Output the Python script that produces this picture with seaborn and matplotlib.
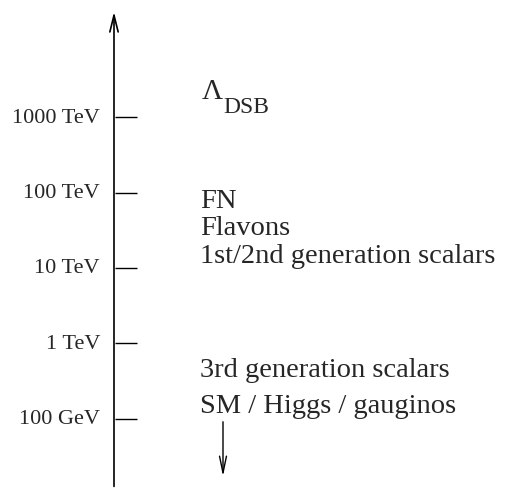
import matplotlib
matplotlib.use("Agg")
import matplotlib.pyplot as plt
import seaborn as sns

# energy scale in log10(E/GeV)
tick_vals = [2, 3, 4, 5, 6]
tick_labels = ["100 GeV", "1 TeV", "10 TeV", "100 TeV", "1000 TeV"]

# physics labels on the right, with their log10(E/GeV) baseline position
item_vals = [4.81, 4.45, 4.08, 2.57, 2.09]
item_labels = ["FN", "Flavons", "1st/2nd generation scalars",
               "3rd generation scalars", "SM / Higgs / gauginos"]
lambda_val = 6.25
lambda_sub_val = 6.066

sns.set_style("white")
plt.rcParams["font.family"] = ["Liberation Serif", "DejaVu Serif"]

fig = plt.figure(figsize=(5.12, 4.89), dpi=100)
ax = fig.add_axes([0, 0, 1, 1])
ax.set_xlim(0, 512)
ax.set_ylim(1.086, 7.563)

# main axis with an open arrow head at the top
ax.annotate("", xy=(114, 7.43), xytext=(114, 1.07),
            arrowprops=dict(arrowstyle="->,head_length=1.2,head_width=0.3", lw=1.2, color="black"))

# tick marks and labels
ax.hlines(tick_vals, 115, 137, color="black", lw=1)
for v, lab in zip(tick_vals, tick_labels):
    ax.text(100, v, lab, ha="right", va="center", fontsize=16)

# Lambda_DSB
lam = ax.text(202, lambda_val, "\u039b", ha="left", va="baseline", fontsize=21)
fig.canvas.draw()
bb = lam.get_window_extent().transformed(ax.transData.inverted())
ax.text(bb.x1, lambda_sub_val, "DSB", ha="left", va="baseline", fontsize=17)

# names of the scales
for v, lab in zip(item_vals, item_labels):
    ax.text(200, v, lab, ha="left", va="baseline", fontsize=20.5)

# small down arrow under SM
ax.annotate("", xy=(223, 1.205), xytext=(223, 2.0),
            arrowprops=dict(arrowstyle="->,head_length=1.2,head_width=0.25", lw=1, color="black"))

ax.set_xticks([])
ax.set_yticks([])
sns.despine(ax=ax, left=True, bottom=True)
fig.savefig("out.png", dpi=100)
